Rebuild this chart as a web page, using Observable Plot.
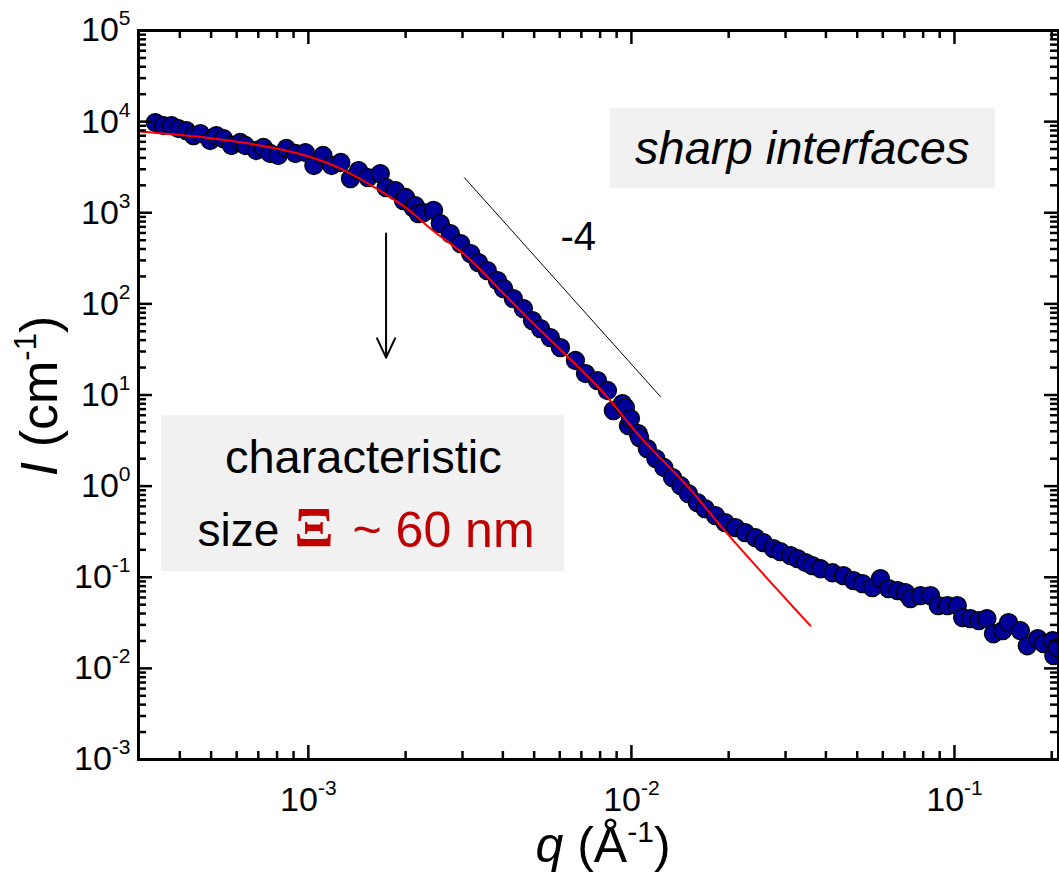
<!DOCTYPE html>
<html><head><meta charset="utf-8">
<script src="https://cdn.jsdelivr.net/npm/d3@7"></script>
<script src="https://cdn.jsdelivr.net/npm/@observablehq/plot@0.6"></script>
<style>body{margin:0;background:#fff;} #chart svg{display:block;}</style>
</head><body><div id="chart"></div>
<script>
// measured scattering data: q (1/Å) and I (1/cm)
const qData = [3.36e-4,3.56e-4,3.77e-4,3.96e-4,4.19e-4,4.41e-4,4.63e-4,4.97e-4,5.19e-4,5.46e-4,5.78e-4,6.15e-4,6.38e-4,6.90e-4,7.26e-4,7.62e-4,8.07e-4,8.55e-4,9.12e-4,9.79e-4,
  1.04e-3,1.11e-3,1.18e-3,1.26e-3,1.35e-3,1.43e-3,1.53e-3,1.67e-3,1.74e-3,1.86e-3,1.97e-3,2.00e-3,2.11e-3,2.14e-3,2.19e-3,2.27e-3,2.44e-3,2.56e-3,2.75e-3,2.96e-3,
  3.18e-3,3.36e-3,3.58e-3,3.85e-3,4.02e-3,4.31e-3,4.63e-3,4.94e-3,5.23e-3,5.61e-3,6.03e-3,6.71e-3,7.21e-3,7.85e-3,8.43e-3,8.79e-3,9.38e-3,9.58e-3,9.79e-3,9.93e-3,
  1.05e-2,1.06e-2,1.12e-2,1.19e-2,1.26e-2,1.34e-2,1.42e-2,1.50e-2,1.60e-2,1.69e-2,1.82e-2,1.95e-2,2.10e-2,2.25e-2,2.42e-2,2.56e-2,2.75e-2,2.89e-2,3.11e-2,3.27e-2,
  3.46e-2,3.63e-2,3.85e-2,4.19e-2,4.53e-2,4.87e-2,5.19e-2,5.57e-2,5.90e-2,6.25e-2,6.67e-2,7.05e-2,7.31e-2,7.85e-2,8.43e-2,8.91e-2,9.51e-2,0.102,0.106,0.112,
  0.119,0.126,0.132,0.141,0.147,0.160,0.168,0.181,0.189,0.201,0.203,0.208];
const iData = [9770,9060,9060,8400,7980,7030,7400,6210,7030,6520,5470,5900,5470,4820,5200,4470,4250,5070,4470,4580,
  3300,4250,3300,3560,2370,2900,2430,2690,1890,1750,1360,1470,1140,1200,979,1000,1060,761,591,459,
  356,284,232,180,147,114,88.7,65.6,53.6,42.7,33.1,23.9,17.2,14.4,11.2,6.74,8.05,7.28,4.61,5.51,
  3.77,3.40,2.58,2.00,1.60,1.24,1.01,0.828,0.659,0.566,0.474,0.397,0.350,0.309,0.272,0.240,0.206,0.191,0.173,0.160,
  0.145,0.134,0.124,0.112,0.104,0.0918,0.0851,0.0769,0.0966,0.0750,0.0713,0.0678,0.0582,0.0628,0.0628,0.0488,0.0488,0.0488,0.0360,0.0352,
  0.0334,0.0352,0.0240,0.0259,0.0318,0.0259,0.0177,0.0212,0.0187,0.0201,0.0138,0.0169];

// fitted curve (red)
const fitQ = [2.98e-4,4.80e-4,7.68e-4,9.79e-4,1.24e-3,1.57e-3,2.00e-3,2.44e-3,3.11e-3,3.93e-3,4.97e-3,8.02e-3,1.07e-2,1.49e-2,1.98e-2,3.04e-2,3.58e-2];
const fitI = [7780,6680,5200,4250,3130,1990,1140,630,325,141,60.8,11.5,3.40,1.00,0.301,0.0553,0.0294];

// slope -4 guide line
const slopeQ = [3.04e-3, 1.23e-2];
const slopeI = [2430, 9.6];

// arrow
const arrowQ = [1.74e-3];
const arrowI1 = [591];
const arrowI2 = [25.7];

// annotation boxes (q1, q2, I1, I2)
const boxQ1 = [8.61e-3, 3.51e-4];
const boxQ2 = [0.134, 6.21e-3];
const boxI1 = [13900, 5.94];
const boxI2 = [1840, 0.115];

// ticks
const xMajor = [1e-3, 1e-2, 1e-1];
const xMinor = [4e-4,5e-4,6e-4,7e-4,8e-4,9e-4,2e-3,3e-3,4e-3,5e-3,6e-3,7e-3,8e-3,9e-3,2e-2,3e-2,4e-2,5e-2,6e-2,7e-2,8e-2,9e-2,0.2];
const yMajor = [1e-3,1e-2,1e-1,1e0,1e1,1e2,1e3,1e4,1e5];
const yMinor = [];
for (const d of [1e-3,1e-2,1e-1,1e0,1e1,1e2,1e3,1e4]) for (const m of [2,3,4,5,6,7,8,9]) yMinor.push(+(m*d).toPrecision(3));

const points = qData.map((q, i) => ({q, I: iData[i]}));
const fit = fitQ.map((q, i) => ({q, I: fitI[i]}));
const slope = slopeQ.map((q, i) => ({q, I: slopeI[i]}));
const arrows = arrowQ.map((q, i) => ({q, I1: arrowI1[i], I2: arrowI2[i]}));
const boxes = boxQ1.map((q, i) => ({q1: q, q2: boxQ2[i], I1: boxI1[i], I2: boxI2[i]}));

const W = 1059, H = 879, mL = 138, mR = 1, mT = 30, mB = 120;
const FW = W - mL - mR, FH = H - mT - mB;
const font = "'Liberation Sans', Arial, Helvetica, sans-serif";
const fmt = d => "10^" + Math.round(Math.log10(d));

const chart = Plot.plot({
  width: W, height: H,
  marginLeft: mL, marginRight: mR, marginTop: mT, marginBottom: mB,
  style: {fontFamily: font, background: "white"},
  x: {type: "log", domain: [2.98e-4, 0.2099]},
  y: {type: "log", domain: [1e-3, 1e5]},
  marks: [
    Plot.rect(boxes, {x1: "q1", x2: "q2", y1: "I1", y2: "I2", fill: "#f1f1f1"}),
    Plot.dot(points, {x: "q", y: "I", r: 9, fill: "#000099", stroke: "black", strokeWidth: 1.3, clip: true}),
    Plot.line(fit, {x: "q", y: "I", stroke: "#ff0000", strokeWidth: 2, curve: "catmull-rom"}),
    Plot.line(slope, {x: "q", y: "I", stroke: "black", strokeWidth: 1}),
    Plot.arrow(arrows, {x1: "q", x2: "q", y1: "I1", y2: "I2", stroke: "black", strokeWidth: 2, headLength: 16, headAngle: 50}),
    Plot.text(["-4"], {x: [6.85e-3], y: [535], text: d => d, fontSize: 40, fill: "black"}),
    Plot.text(["sharp interfaces"], {x: [3.38e-2], y: [5070], text: d => d, fontSize: 47, fontStyle: "italic", fill: "black"}),
    Plot.text(["characteristic"], {x: [1.48e-3], y: [2.06], text: d => d, fontSize: 47, fill: "black"}),
    Plot.text(["size"], {x: [8.13e-4], y: [0.317], text: d => d, fontSize: 46, textAnchor: "end", fill: "black"}),
    Plot.text(["\u039E"], {x: [1.04e-3], y: [0.341], text: d => d, fontSize: 58, fontWeight: "bold", fontFamily: "'Liberation Serif', 'DejaVu Serif', serif", fill: "#c00000"}),
    Plot.text(["~ 60 nm"], {x: [1.37e-3], y: [0.325], text: d => d, fontSize: 50, textAnchor: "start", fill: "#c00000"}),
    // ticks: bottom / top
    Plot.tickX(xMajor, {x: d => d, insetTop: FH - 14, stroke: "black", strokeWidth: 2.5}),
    Plot.tickX(xMajor, {x: d => d, insetBottom: FH - 14, stroke: "black", strokeWidth: 2.5}),
    Plot.tickX(xMinor, {x: d => d, insetTop: FH - 8, stroke: "black", strokeWidth: 2.5}),
    Plot.tickX(xMinor, {x: d => d, insetBottom: FH - 8, stroke: "black", strokeWidth: 2.5}),
    // ticks: left / right
    Plot.tickY(yMajor, {y: d => d, insetRight: FW - 14, stroke: "black", strokeWidth: 2.5}),
    Plot.tickY(yMajor, {y: d => d, insetLeft: FW - 14, stroke: "black", strokeWidth: 2.5}),
    Plot.tickY(yMinor, {y: d => d, insetRight: FW - 8, stroke: "black", strokeWidth: 2.5}),
    Plot.tickY(yMinor, {y: d => d, insetLeft: FW - 8, stroke: "black", strokeWidth: 2.5}),
    Plot.frame({stroke: "black", strokeWidth: 3}),
    Plot.axisX(xMajor, {anchor: "bottom", tickSize: 0, tickPadding: 27, tickFormat: fmt, fontSize: 34, label: null}),
    Plot.axisY(yMajor, {anchor: "left", tickSize: 0, tickPadding: 8, tickFormat: fmt, fontSize: 34, label: null})
  ]
});
document.getElementById("chart").appendChild(chart);

// superscripts in tick labels
const NS = "http://www.w3.org/2000/svg";
chart.querySelectorAll('g[aria-label="x-axis tick label"] text, g[aria-label="y-axis tick label"] text').forEach(t => {
  const parts = t.textContent.split("^");
  if (parts.length < 2) return;
  t.setAttribute("font-size", 34);
  t.textContent = parts[0];
  const ts = document.createElementNS(NS, "tspan");
  ts.setAttribute("font-size", 21);
  ts.setAttribute("dy", -16);
  ts.textContent = parts[1];
  t.appendChild(ts);
});

// axis titles
const svg = d3.select(chart);
const xt = svg.append("text").attr("x", 603).attr("y", 862).attr("text-anchor", "middle")
  .attr("font-size", 50).attr("fill", "black").attr("font-family", font);
xt.append("tspan").attr("font-style", "italic").text("q");
xt.append("tspan").text(" (\u00C5");
xt.append("tspan").attr("font-size", 30).attr("dy", -20).text("-1");
xt.append("tspan").attr("dy", 20).text(")");

const yt = svg.append("text").attr("transform", "translate(57,396) rotate(-90)").attr("text-anchor", "middle")
  .attr("font-size", 52).attr("fill", "black").attr("font-family", font);
yt.append("tspan").attr("font-style", "italic").text("I");
yt.append("tspan").text(" (cm");
yt.append("tspan").attr("font-size", 31).attr("dy", -21).text("-1");
yt.append("tspan").attr("dy", 21).text(")");
</script>
</body></html>
